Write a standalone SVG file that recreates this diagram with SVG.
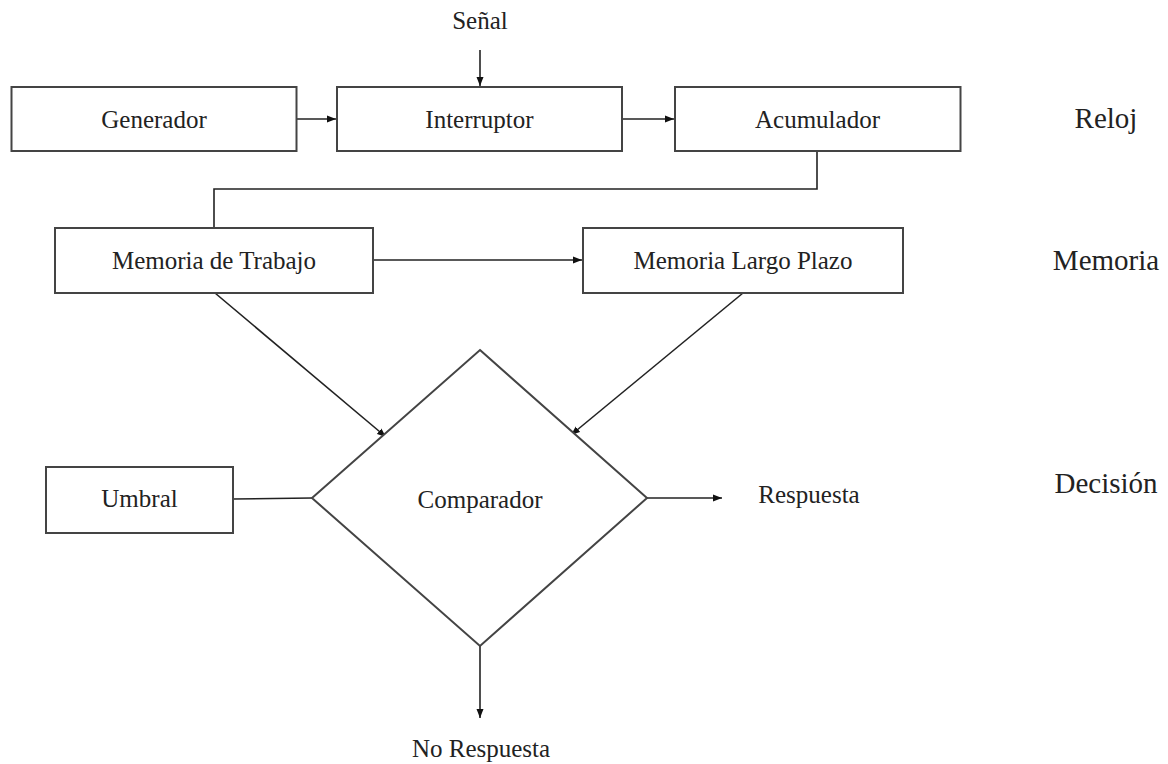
<svg xmlns="http://www.w3.org/2000/svg" width="1168" height="764" viewBox="0 0 1168 764">
<defs>
<marker id="ah" markerWidth="10" markerHeight="8" refX="9" refY="4" orient="auto" markerUnits="userSpaceOnUse">
<path d="M0,0.5 L9,4 L0,7.5 Z" fill="#111"/>
</marker>
<style>
.box{fill:#fff;stroke:#444;stroke-width:2}
.lbl{font-family:"Liberation Serif","Times New Roman",serif;font-size:25px;fill:#222;text-anchor:middle}
.side{font-family:"Liberation Serif","Times New Roman",serif;font-size:29px;fill:#222;text-anchor:middle}
.con{fill:none;stroke:#222;stroke-width:1.6}
.arr{fill:none;stroke:#222;stroke-width:1.6;marker-end:url(#ah)}
</style>
</defs>
<rect width="1168" height="764" fill="#fff"/>
<g id="connectors">
<line class="arr" x1="480" y1="50" x2="480" y2="86"/>
<line class="arr" x1="297" y1="119" x2="336" y2="119"/>
<line class="arr" x1="622" y1="119" x2="674" y2="119"/>
<path class="con" d="M817,151 V189 H214 V228"/>
<line class="arr" x1="373" y1="260" x2="582" y2="260"/>
<line class="arr" x1="215" y1="293" x2="386" y2="437"/>
<line class="arr" x1="743" y1="293" x2="571" y2="435"/>
<line class="con" x1="233" y1="499" x2="312" y2="498"/>
<line class="arr" x1="647" y1="498" x2="722" y2="498"/>
<line class="arr" x1="480" y1="646" x2="480" y2="718"/>
</g>
<g id="senal"><text class="lbl" x="480" y="29">Señal</text></g>
<g id="generador"><rect class="box" x="11.5" y="87" width="285" height="64"/><text class="lbl" x="154" y="128">Generador</text></g>
<g id="interruptor"><rect class="box" x="337" y="87" width="285" height="64"/><text class="lbl" x="479.5" y="128">Interruptor</text></g>
<g id="acumulador"><rect class="box" x="675" y="87" width="285.5" height="64"/><text class="lbl" x="817.5" y="128">Acumulador</text></g>
<g id="memoria-trabajo"><rect class="box" x="55" y="228" width="318" height="65"/><text class="lbl" x="214" y="269">Memoria de Trabajo</text></g>
<g id="memoria-largo"><rect class="box" x="583" y="228" width="320" height="65"/><text class="lbl" x="743" y="269">Memoria Largo Plazo</text></g>
<g id="comparador"><polygon class="box" points="480,350 647,498 480,646 312,498"/><text class="lbl" x="480" y="508">Comparador</text></g>
<g id="umbral"><rect class="box" x="46" y="467" width="187" height="66"/><text class="lbl" x="139.5" y="507">Umbral</text></g>
<g id="respuesta"><text class="lbl" x="809" y="503">Respuesta</text></g>
<g id="no-respuesta"><text class="lbl" x="481" y="757">No Respuesta</text></g>
<g id="reloj"><text class="side" x="1106" y="128">Reloj</text></g>
<g id="memoria"><text class="side" x="1106" y="270">Memoria</text></g>
<g id="decision"><text class="side" x="1106" y="493">Decisión</text></g>
</svg>
